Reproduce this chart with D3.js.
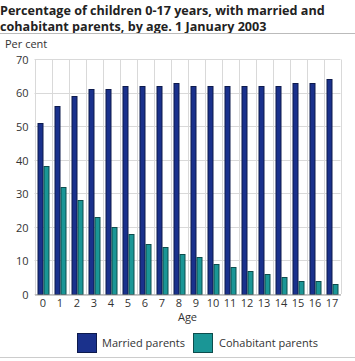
<!DOCTYPE html>
<html><head><meta charset="utf-8">
<script src="https://cdn.jsdelivr.net/npm/d3@7"></script>
<style>body{margin:0;background:#fff;} svg{display:block;}</style>
</head><body>
<svg id="c" width="355" height="361"></svg>
<script>
const ages = ["0","1","2","3","4","5","6","7","8","9","10","11","12","13","14","15","16","17"];
const married = [51,56,59,61,61,62,62,62,63,62,62,62,62,62,62,63,63,64];
const cohabitant = [38,32,28,23,20,18,15,14,12,11,9,8,7,6,5,4,4,3];
const yTicks = [0,10,20,30,40,50,60,70];
const seriesNames = ["Married parents","Cohabitant parents"];
const colors = ["#1a318c","#1a9696"];

const svg = d3.select("#c");
const font = "'Open Sans', sans-serif";
const L=34.5, R=340.5, T=59, B=294;

const t1 = svg.append("text").attr("x",0).attr("y",15).attr("font-family",font).attr("font-weight","bold").attr("font-size",14).attr("fill","#222").text("Percentage of children 0-17 years, with married and");
const w1 = t1.node().getComputedTextLength();
const fs = 14*325/w1;
t1.attr("font-size",fs);
svg.append("text").attr("x",0).attr("y",31).attr("font-family",font).attr("font-weight","bold").attr("font-size",fs).attr("fill","#222").text("cohabitant parents, by age. 1 January 2003");
svg.append("line").attr("x1",0).attr("x2",355).attr("y1",33.5).attr("y2",33.5).attr("stroke","#bbb").attr("stroke-width",1);
svg.append("text").attr("x",5).attr("y",48).attr("font-family",font).attr("font-size",11).attr("fill","#333").text("Per cent");

const x = d3.scaleBand().domain(ages).range([L,R]);
const y = d3.scaleLinear().domain([0,70]).range([B,T]);

const g = svg.append("g");
g.selectAll(".hg").data(yTicks).enter().append("line")
 .attr("x1",L).attr("x2",R).attr("y1",d=>Math.round(y(d))+0.5).attr("y2",d=>Math.round(y(d))+0.5)
 .attr("stroke","#d9d9d9");
g.selectAll(".vg").data(ages.concat(["end"])).enter().append("line")
 .attr("x1",(d,i)=>Math.round(L+i*x.step())+0.5).attr("x2",(d,i)=>Math.round(L+i*x.step())+0.5)
 .attr("y1",Math.round(T)+0.5).attr("y2",B).attr("stroke","#d9d9d9");

const inner = d3.scaleBand().domain([0,1]).range([3,15]);
const series=[married,cohabitant];
series.forEach((vals,si)=>{
  g.selectAll(".b"+si).data(vals).enter().append("rect")
   .attr("x",(d,i)=>x(ages[i])+inner(si)+0.5)
   .attr("y",d=>Math.round(y(d))+0.5)
   .attr("width",inner.bandwidth()-1)
   .attr("height",d=>B-Math.round(y(d)))
   .attr("fill",colors[si]).attr("stroke",si==0?"#0d1a4d":"#0d4d4d").attr("stroke-width",1);
});

const yAxis = d3.axisLeft(y).tickValues(yTicks).tickSize(0).tickPadding(6);
const ya = svg.append("g").attr("transform",`translate(${L},0)`).call(yAxis);
ya.select(".domain").remove();
ya.selectAll("text").attr("font-family",font).attr("font-size",11).attr("fill","#333").attr("dy","0.4em");

const xAxis = d3.axisBottom(x).tickSize(0).tickPadding(5);
const xa = svg.append("g").attr("transform",`translate(0,${B+0.5})`).call(xAxis);
xa.select(".domain").attr("stroke","#999");
xa.selectAll("text").attr("font-family",font).attr("font-size",11).attr("fill","#333");

svg.append("text").attr("x",(L+R)/2).attr("y",321).attr("text-anchor","middle").attr("font-family",font).attr("font-size",11).attr("fill","#333").text("Age");

const leg = [{x:77,tx:102},{x:193,tx:219}];
seriesNames.forEach((n,i)=>{
  svg.append("rect").attr("x",leg[i].x+0.5).attr("y",333.5).attr("width",19).attr("height",19).attr("fill",colors[i]).attr("stroke",i==0?"#0d1a4d":"#0d4d4d");
  svg.append("text").attr("x",leg[i].tx).attr("y",347).attr("font-family",font).attr("font-size",11).attr("fill","#333").text(n);
});
svg.append("line").attr("x1",0).attr("x2",355).attr("y1",357.5).attr("y2",357.5).attr("stroke","#ccc");
</script>
</body></html>
